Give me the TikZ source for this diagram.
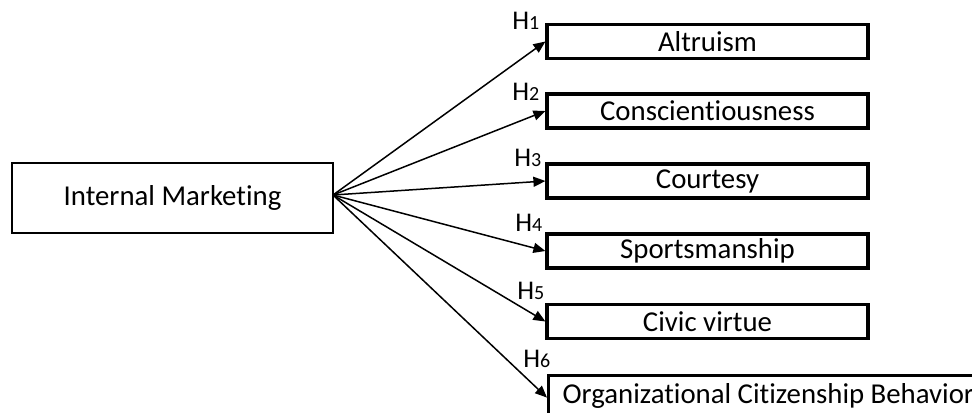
\documentclass[tikz,border=0pt]{standalone}
\usepackage{fontspec}
\setmainfont{Carlito}[Ligatures=NoCommon]
\usetikzlibrary{arrows.meta}

\newcommand{\hlabel}[1]{H{\fontsize{10}{11}\selectfont #1}}

\begin{document}
\begin{tikzpicture}[x=0.5pt,y=-0.5pt,
    box/.style={draw,line width=1.6pt,minimum width=160.5pt,minimum height=17pt,inner sep=0pt,font=\fontsize{14.4}{16}\selectfont},
    hyp/.style={anchor=base west,inner sep=0pt,font=\fontsize{13.5}{15}\selectfont},
    link/.style={line width=0.75pt,-{Triangle[length=6pt,width=5pt]}}]
        \useasboundingbox (0,0) rectangle (972,412);
        \clip (0,0) rectangle (972,412);
        % source and outcome boxes
        \node[box,minimum height=35pt,line width=1.4pt] (im) at (172.5,198) {Internal Marketing};
        \node[box] (alt) at (707.5,41.5) {Altruism};
        \node[box] (con) at (707.5,111) {Conscientiousness};
        \node[box] (cou) at (707.5,181) {Courtesy};
        \node[box] (spo) at (707.5,251) {Sportsmanship};
        \node[box] (civ) at (707.5,321.5) {Civic virtue};
        \node[box,anchor=north west,minimum width=0pt,minimum height=20pt,inner xsep=7pt] (ocb) at (547,374) {Organizational Citizenship Behavior};
        % hypotheses
        \node[hyp] (h1) at (512,29) {\hlabel{1}};
        \node[hyp] (h2) at (512,100) {\hlabel{2}};
        \node[hyp] (h3) at (514,166) {\hlabel{3}};
        \node[hyp] (h4) at (515,231) {\hlabel{4}};
        \node[hyp] (h5) at (517,299) {\hlabel{5}};
        \node[hyp] (h6) at (523,367) {\hlabel{6}};
        % arrows
        \coordinate (src) at (333,195);
        \draw[link] (src) -- (alt.west);
        \draw[link] (src) -- (con.west);
        \draw[link] (src) -- (cou.west);
        \draw[link] (src) -- (spo.west);
        \draw[link] (src) -- (civ.west);
        \draw[link] (src) -- ([yshift=-1pt]ocb.west);
    \end{tikzpicture}
\end{document}
